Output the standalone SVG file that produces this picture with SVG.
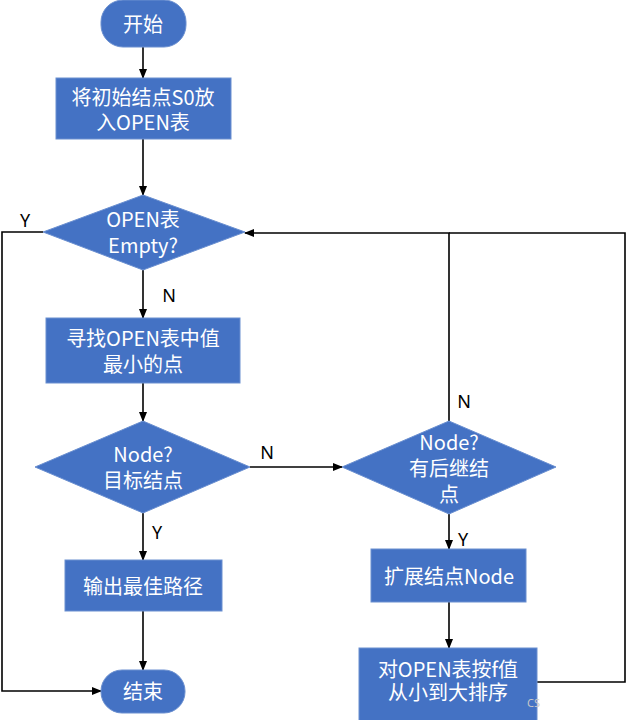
<svg xmlns="http://www.w3.org/2000/svg" width="626" height="720" viewBox="0 0 626 720">
<style>
.shape{fill:#4472C4;stroke:#6A8FD0;stroke-width:1}
.t{font-family:"Noto Sans CJK SC","Noto Sans",sans-serif;font-size:20px;fill:#FFFFFF;text-anchor:middle}
.lbl{font-family:"Noto Sans","Liberation Sans",sans-serif;font-size:18px;fill:#000000;text-anchor:middle}
.c{fill:none;stroke:#000000;stroke-width:1.6}
</style>
<defs>
<marker id="ah" markerWidth="10" markerHeight="8" refX="9" refY="4" orient="auto" markerUnits="userSpaceOnUse">
<path d="M0,0 L10,4 L0,8 Z" fill="#000000"/>
</marker>
</defs>
<rect width="626" height="720" fill="#FFFFFF"/>
<g id="connectors">
<line class="c" x1="143" y1="47" x2="143" y2="78" marker-end="url(#ah)"/>
<line class="c" x1="143" y1="139" x2="143" y2="195" marker-end="url(#ah)"/>
<line class="c" x1="143" y1="270" x2="143" y2="318" marker-end="url(#ah)"/>
<line class="c" x1="143" y1="383" x2="143" y2="421" marker-end="url(#ah)"/>
<line class="c" x1="143" y1="513" x2="143" y2="560" marker-end="url(#ah)"/>
<line class="c" x1="143" y1="611" x2="143" y2="670" marker-end="url(#ah)"/>
<polyline class="c" points="43,232 2,232 2,691 101,691" marker-end="url(#ah)"/>
<line class="c" x1="250" y1="467" x2="342" y2="467" marker-end="url(#ah)"/>
<polyline class="c" points="449,421 449,233 245,233" marker-end="url(#ah)"/>
<line class="c" x1="449" y1="514" x2="449" y2="549" marker-end="url(#ah)"/>
<line class="c" x1="449" y1="602" x2="449" y2="648" marker-end="url(#ah)"/>
<polyline class="c" points="537,682 625,682 625,233 449,233"/>
<text class="lbl" x="25" y="227">Y</text>
<text class="lbl" x="169" y="302">N</text>
<text class="lbl" x="267" y="459">N</text>
<text class="lbl" x="464" y="408">N</text>
<text class="lbl" x="157" y="539">Y</text>
<text class="lbl" x="463" y="546">Y</text>
</g>
<g id="start">
<rect class="shape" x="101" y="0" width="85" height="47" rx="22" ry="22"/>
<text class="t" x="143" y="32">开始</text>
</g>
<g id="init">
<rect class="shape" x="56" y="78" width="175" height="61"/>
<text class="t" x="143" y="105">将初始结点S0放</text>
<text class="t" x="143" y="130">入OPEN表</text>
</g>
<g id="empty">
<polygon class="shape" points="143,195 245,232 143,270 43,232"/>
<text class="t" x="143" y="227">OPEN表</text>
<text class="t" x="143" y="253">Empty?</text>
</g>
<g id="findmin">
<rect class="shape" x="46" y="318" width="194" height="65"/>
<text class="t" x="143" y="346">寻找OPEN表中值</text>
<text class="t" x="143" y="372">最小的点</text>
</g>
<g id="isgoal">
<polygon class="shape" points="143,421 250,467 143,513 35,467"/>
<text class="t" x="143" y="462">Node?</text>
<text class="t" x="143" y="488">目标结点</text>
</g>
<g id="hassucc">
<polygon class="shape" points="449,421 556,467 449,514 342,467"/>
<text class="t" x="449" y="450">Node?</text>
<text class="t" x="449" y="476">有后继结</text>
<text class="t" x="449" y="502">点</text>
</g>
<g id="expand">
<rect class="shape" x="371" y="549" width="155" height="53"/>
<text class="t" x="449" y="584">扩展结点Node</text>
</g>
<g id="sort">
<rect class="shape" x="359" y="648" width="178" height="74"/>
<text class="t" x="448" y="677">对OPEN表按f值</text>
<text class="t" x="448" y="700">从小到大排序</text>
</g>
<g id="output">
<rect class="shape" x="65" y="560" width="157" height="51"/>
<text class="t" x="143" y="594">输出最佳路径</text>
</g>
<g id="end">
<rect class="shape" x="101" y="670" width="84" height="43" rx="21" ry="21"/>
<text class="t" x="143" y="699">结束</text>
</g>
<text x="527" y="707" font-family="Noto Sans, sans-serif" font-size="11" fill="#C8C8C8">CS</text>
</svg>
